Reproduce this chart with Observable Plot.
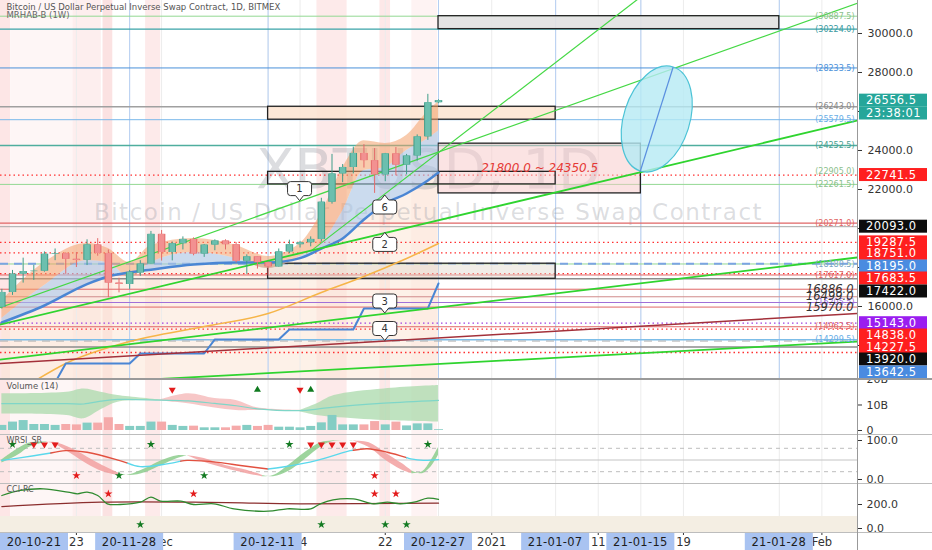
<!DOCTYPE html>
<html><head><meta charset="utf-8">
<script src="https://cdn.jsdelivr.net/npm/d3@7"></script>
<script src="https://cdn.jsdelivr.net/npm/@observablehq/plot@0.6"></script>
<style>
html,body{margin:0;padding:0;background:#fff;}
#wrap{position:relative;width:932px;height:550px;overflow:hidden;font-family:"DejaVu Sans",sans-serif;}
#wrap svg{position:absolute;left:0;overflow:visible;background:transparent !important;}
.sep{position:absolute;left:0;width:932px;height:0;border-top:1px solid #bdbdbd;}
</style></head><body><div id="wrap"></div>
<script>
// ---------------- DATA ----------------
const candleStart = "2020-11-16";
const open  = [15960,16720,17660,17790,17810,18680,18710,18420,18370,19160,18720,17200,17130,17720,18180,19700,18770,19220,19440,18690,19150,19360,19170,18320,18550,18250,18030,18800,19170,19270,19440,21350,22800,23130,23850,23480,22750,23830,23250,23720,24700,26450];
const high  = [16880,17850,18480,18110,18800,18950,18750,18770,19420,19480,18900,17450,17850,18350,19850,19900,19300,19570,19520,19180,19420,19420,19280,18650,18560,18280,18950,19400,19340,19570,21550,23800,23280,24170,24300,24100,23850,24150,23800,24800,26880,26600];
const low   = [15870,16570,17200,17340,17760,18350,17650,18000,18100,18580,16450,16700,16880,17550,18180,18330,18340,18900,18600,18520,18860,18900,18240,17650,17920,17570,18020,18710,19000,19060,19300,21250,22350,22800,23100,21800,22400,22700,22750,23450,24520,26400];
const close = [16720,17660,17790,17810,18680,18710,18420,18370,19160,18720,17200,17130,17750,18180,19700,18770,19220,19440,18690,19150,19360,19170,18320,18550,18250,18030,18800,19170,19270,19440,21350,22800,23130,23850,23480,22750,23830,23250,23720,24700,26450,26556.5];

const xDomain = ["2020-11-15T20:57Z", "2021-02-04T08:14Z"];
const priceDomain = [12308, 31692];
const priceTicks = [14000,16000,18000,20000,22000,24000,26000,28000,30000];

const xTickDates  = ["2020-11-23","2020-12-01","2020-12-14","2020-12-22","2021-01-01","2021-01-11","2021-01-19","2021-02-01"];
const xTickLabels = ["23","Dec","14","22","2021","11","19","Feb"];
const vlineDates  = ["2020-11-28","2020-12-11","2020-12-27","2021-01-07","2021-01-15","2021-01-28"];
const vlineLabels = ["20-11-28","20-12-11","20-12-27","21-01-07","21-01-15","21-01-28"];
const pinnedLabel = "20-10-21";

const stripeFrom  = ["2020-11-15T20:00Z","2020-11-16T20:00Z","2020-11-22T16:00Z","2020-11-25T12:00Z","2020-11-29T12:00Z","2020-12-15T14:00Z","2020-12-21T12:00Z","2020-12-24T12:00Z"];
const stripeTo    = ["2020-11-16T20:00Z","2020-11-22T16:00Z","2020-11-25T08:00Z","2020-11-26T10:00Z","2020-11-30T22:00Z","2020-12-18T10:00Z","2020-12-22T12:00Z","2020-12-26T22:00Z"];
const stripeColor = ["#fde6e6","#fef6f6","#fdeeee","#fbe2e2","#fdeaea","#fdeaea","#fde8e8","#fef3f3"];

const hlineValues = [30887.5,30224,28233.5,26243,25579.5,24252.5,22741.5,22261.5,20271,20093,19287.5,18751,18180.5,18195,17683.5,17617,17422,16886,16499,16205.5,15970,15143,14962.5,14838,14299.5,14227.5,13920,13642.5];
const hlineColors = ["#93d893","#3aa3a8","#4a90d9","#a0a0a0","#79b8ea","#4fae9e","#ff3030","#93d893","#e06666","#a8a8a8","#ff3030","#ff3030","#93d893","#7ba4e2","#ff3030","#e06666","#8c8c8c","#e06666","#d08a8a","#a070d8","#e06666","#a040e0","#e06666","#ff3030","#7cbde8","#b0b0b0","#8c8c8c","#ff3030"];
const hlineKinds  = ["solid","solid","solid","solid","solid","solid","dot","solid","solid","solid","dot","dot","solid","dash","dot","solid","solid","solid","solid","solid","solid","dot","solid","dot","solid","dash","solid","dot"];
const hlineWidths = [1,1.2,1,1.5,1,1.5,1.3,1,1.2,1,1.3,1.3,1,2,1.3,1,1.5,1,1,1.2,1,1.3,1,1.3,1.5,1,1.5,1.3];

const tagValues = [30887.5,30224,28233.5,26243,25579.5,24252.5,22905,22261.5,20271,18180.5,17617,16205.5,14962.5,14299.5];
const tagColors = ["#8cc08c","#3a9aa0","#4a90d9","#888888","#6aaee6","#4a9e90","#8cc08c","#8cc08c","#e06666","#7ba4c2","#e06666","#a070d8","#e06666","#6aaee6"];
const strikeValues = [16886, 16499, 15970];

const boxLabels = ["26556.5","23:38:01","22741.5","20093.0","19287.5","18751.0","18195.0","17683.5","17422.0","15143.0","14838.0","14227.5","13920.0","13642.5"];
const boxAt     = [26556.5,25897,22741.5,20093,19287.5,18700,18051,17436,16770,15143,14513,13898,13282,12615];
const boxColors = ["#26a69a","#26a69a","#ff1f1f","#0d0d0d","#ff1f1f","#ff1f1f","#4a8be0","#ff1f1f","#0d0d0d","#9a1df0","#ff1f1f","#ff1f1f","#0d0d0d","#4a8be0"];

const drawFrom = ["2020-12-27","2020-12-11","2020-12-27","2020-12-11","2020-12-11"];
const drawTo   = ["2021-01-28","2021-01-07","2021-01-15","2021-01-07","2021-01-07"];
const drawLow  = [30224, 25579.5, 21800, 22261.5, 17422];
const drawHigh = [30887.5, 26243, 24350.5, 22905, 18195];
const drawFill = ["rgba(225,225,225,0.9)","rgba(253,228,208,0.85)","rgba(247,200,200,0.5)","rgba(255,255,255,0)","rgba(225,215,205,0.45)"];
const zoneLabel = "21800.0 ~ 24350.5";

const trendFrom      = ["2020-11-15","2020-12-15","2020-11-15","2020-11-15","2020-11-15","2020-11-15"];
const trendTo        = ["2021-02-05","2021-01-16","2021-02-05","2021-02-05","2021-02-05","2021-02-05"];
const trendFromPrice = [15779, 18841, 14964, 13226, 11821, 13051];
const trendToPrice   = [31679, 32300, 25621, 18559, 14221, 15662];
const trendColors    = ["#45d845","#45d845","#2fd42f","#2fd42f","#2fd42f","#a3303a"];
const trendWidths    = [1.2,1.2,1.8,1.8,1.8,1.5];

const bandDays     = [0,4,8,10,12,14,18,22,25,28,30,32,34,36,38,40,41];
const orangeTop    = [16308,18256,19231,18974,18256,19128,19487,19128,18564,19231,20800,23100,24500,24360,24770,26000,26500];
const orangeBottom = [15385,17077,18359,18256,17487,18256,18769,18461,17949,18564,19200,20900,22970,23130,24000,24600,25000];
const blueLine     = [15180,16051,17150,17540,17744,17890,18150,18256,18256,18480,18974,19487,20460,21282,21795,22462,22872];

const maDays   = [3,6,12,19,25,30,34,38,41];
const maValues = [12154,13077,14205,14974,15641,16718,17538,18461,19231];
const stepDays   = [5,6,12,13,19,20,26,27,33,34,40,41];
const stepValues = [12100,13077,13077,13590,13590,14310,14310,14820,14820,15900,15900,17180];

const ellipseDates  = ["2021-01-15","2021-01-18T02:00Z"];
const ellipsePrices = [22923, 28256];

const calloutLabels = ["1","6","2","3","4"];
const calloutDates  = ["2020-12-14","2020-12-22","2020-12-22","2020-12-22","2020-12-22"];
const calloutPrices = [21405, 21692, 19774, 15641, 14231];
const calloutAnchor = ["bottom","top","top","bottom","bottom"];

// volume panel (billions)
const volume   = [2.0,3.3,3.9,2.35,2.35,2.0,2.35,2.2,2.9,2.9,5.0,2.35,1.6,1.6,3.3,3.3,2.0,1.6,1.7,1.05,1.05,1.05,1.7,2.0,1.6,2.0,1.3,1.3,1.05,1.6,3.0,5.9,2.2,2.2,2.2,3.5,2.2,3.3,1.8,2.6,2.6,0.3];
const volumeUp = "GGGGGGRRGRRRGGGRGGRGGRRGRRGGGGGGGGRRGRGGGG";
const volDomain = [-1.57, 20.39];
const volEnvDays  = [0,6.1,7.7,9.3,10.9,14.9,17.5,20,22,24,28,29.6,31.2,35.9,41];
const volEnvMid   = [10.5,10.5,10.4,11.5,12.2,11.9,11.6,10.6,9.7,8.5,7.8,8.4,9.2,10.7,11.8];
const volEnvUpper = [14.4,15,16.3,15,13.7,12.0,14.4,12.5,11.8,8.9,7.9,10.5,13.7,16.3,17.6];
const volEnvLower = [6.5,5.9,4.6,8.1,11.1,11.6,10.5,8.8,7.8,7.8,7.4,5.9,5.2,3.9,3.3];
const volEnvTrend = ["G","G","G","G","G","R","R","R","R","R","G","G","G","G","G"];
const volSignalDays = [16,28,24,29];
const volSignalKind = ["down","down","up","up"];
const volSignalAt = 16;

// RSI panel
const rsiDomain = [-10.26, 115.4];
const rsiDays  = [0,3,4.6,6,8,11,11.8,13,15.5,16.8,17.4,20.3,22.4,25,26.4,29.6,32.7,33,34.3,36.2,38,38.4,39.6,41];
const rsiValue = [49,61,68,74,70,49,42,33,40,47,49,44,36,27,32,49,74,75,79,70,56,53,49,51];
const rsiTrend = ["C","C","R","R","R","R","C","C","C","R","R","R","R","C","C","C","C","R","R","R","C","C","C","C"];
const oscDays = [0,1.5,2.7,4.2,5,6.5,8,9.5,11,12,13.5,15,16.5,17.5,19,21,23,24.5,25.5,27,28.5,30,31,33,34.5,36,37.5,38.5,39.5,40.3,41];
const oscFast = [50,78,94,96,90,66,40,20,10,12,28,48,61,60,44,28,15,7,10,38,70,95,99,99,82,50,25,15,20,48,82];
const oscSlow = [42,62,84,95,95,80,58,35,16,10,18,36,54,61,54,36,24,10,7,22,52,84,97,99,94,68,42,22,15,32,62];
const oscTrend = ["G","G","G","R","R","R","R","R","G","G","G","G","G","R","R","R","R","G","G","G","G","G","G","R","R","R","R","G","G","G","G"];
const rsiTopGreen = [1,14,27,40];
const rsiTopRed = [3,4,5,29,30,31,32,33];
const rsiBottomRed = [7,35];
const rsiBottomGreen = [11,19];

// CCI panel
const cciDomain = [-33.3, 375];
const cciDays  = [0,1.75,3.9,6.2,7.1,8,9,9.9,11.1,13,14,14.9,16.8,18,19.9,21.8,25,26.8,29,29.9,31.1,33,34.9,36.2,37.4,38.7,40,41];
const cciValue = [275,317,331,303,289,303,275,206,200,219,261,228,228,200,206,164,144,164,164,206,239,247,206,219,206,219,253,242];
const sigDays  = [0,9.3,18,28,41];
const sigValue = [183,219,219,206,211];
const cciRedDots = [10,18,35,37];
const cciGreenDots = [13,30,36,38];

// ---------------- HELPERS ----------------
const t0 = Date.parse(candleStart + "T00:00Z");
const day = i => new Date(t0 + i * 864e5);
const D = s => new Date(s.length <= 10 ? s + "T00:00Z" : s);
const XD = xDomain.map(D);
const FONT = "DejaVu Sans, sans-serif";

function segs(xs, a, b, cols) {
  const out = []; let seg = 0;
  for (let i = 0; i < xs.length; i++) {
    if (i > 0 && cols[i] !== cols[i-1]) { out.push({x: day(xs[i]), a: a[i], b: b[i], seg, c: cols[i-1]}); seg++; }
    out.push({x: day(xs[i]), a: a[i], b: b[i], seg, c: cols[i]});
  }
  return out;
}

const candles = open.map((o, i) => ({date: day(i), o, h: high[i], l: low[i], c: close[i]}));
const stripes = stripeFrom.map((s, i) => ({x1: D(s), x2: D(stripeTo[i]), fill: stripeColor[i]}));
const hlines = hlineValues.map((v, i) => ({v, c: hlineColors[i], k: hlineKinds[i], w: hlineWidths[i]}));
const draws = drawFrom.map((s, i) => ({x1: D(s), x2: D(drawTo[i]), y1: drawLow[i], y2: drawHigh[i], fill: drawFill[i]}));
const trends = trendFrom.map((s, i) => ({x1: D(s), x2: D(trendTo[i]), y1: trendFromPrice[i], y2: trendToPrice[i], c: trendColors[i], w: trendWidths[i]}));
const band = bandDays.map((d, i) => ({x: day(d), top: orangeTop[i], bot: orangeBottom[i], blue: blueLine[i]}));
const ma = maDays.map((d, i) => ({x: day(d), v: maValues[i]}));
const step = stepDays.map((d, i) => ({x: day(d), v: stepValues[i]}));
const gridDates = xTickDates.concat(vlineDates).map(D);

const UP_FILL = "#6cbfae", UP_LINE = "#3f9d89", DN_FILL = "#f29191", DN_LINE = "#e46a6a";

function baseOpts(h, domain, extra) {
  return Object.assign({
    width: 932, height: h, marginLeft: 0, marginRight: 75, marginTop: 0, marginBottom: 0,
    x: {type: "utc", domain: XD, axis: null, label: null},
    y: {domain, axis: null, label: null},
    color: {type: "identity"},
    style: {fontFamily: FONT, background: "transparent", overflow: "visible"}
  }, extra || {});
}

const stripeMark = Plot.rect(stripes, {x1: "x1", x2: "x2", fill: "fill"});
const gridMark = Plot.ruleX(gridDates, {stroke: "#ececec", strokeWidth: 1});

function watermark(index, scales, values, dims) {
  const cx = (dims.marginLeft + dims.width - dims.marginRight) / 2;
  const cy = (dims.marginTop + dims.height - dims.marginBottom) / 2;
  const g = d3.create("svg:g").attr("fill", "#9598a1").attr("fill-opacity", 0.33).attr("text-anchor", "middle").attr("font-family", FONT);
  g.append("text").attr("x", cx).attr("y", cy - 21).attr("dy", "0.36em").attr("font-size", 56).text("XBTUSD, 1D");
  g.append("text").attr("x", cx).attr("y", cy + 23).attr("dy", "0.36em").attr("font-size", 23).attr("letter-spacing", "1.5px").text("Bitcoin / US Dollar Perpetual Inverse Swap Contract");
  return g.node();
}

function ellipseMark(index, {x, y}) {
  const x1 = x(D(ellipseDates[0])), y1 = y(ellipsePrices[0]), x2 = x(D(ellipseDates[1])), y2 = y(ellipsePrices[1]);
  const cx = (x1 + x2) / 2, cy = (y1 + y2) / 2, a = Math.hypot(x2 - x1, y2 - y1) / 2;
  const ang = Math.atan2(y2 - y1, x2 - x1) * 180 / Math.PI;
  const g = d3.create("svg:g");
  g.append("ellipse").attr("cx", cx).attr("cy", cy).attr("rx", a).attr("ry", 33)
    .attr("transform", `rotate(${ang} ${cx} ${cy})`).attr("fill", "#b5eaf4").attr("fill-opacity", 0.8)
    .attr("stroke", "#4cc3d6").attr("stroke-width", 1.2);
  g.append("line").attr("x1", x1).attr("y1", y1).attr("x2", x2).attr("y2", y2).attr("stroke", "#5a8fe0").attr("stroke-width", 1.2);
  return g.node();
}

function calloutMark(index, {x, y}) {
  const g = d3.create("svg:g");
  calloutLabels.forEach((lab, i) => {
    const px = x(D(calloutDates[i])), py = y(calloutPrices[i]);
    const w = 24, h = 14, p = 5, r = 3, l = px - w / 2, rr = px + w / 2;
    const down = calloutAnchor[i] === "bottom";
    let top, bot, d;
    if (down) { bot = py - p; top = bot - h;
      d = `M${l+r},${top}H${rr-r}Q${rr},${top} ${rr},${top+r}V${bot-r}Q${rr},${bot} ${rr-r},${bot}H${px+4}L${px},${py}L${px-4},${bot}H${l+r}Q${l},${bot} ${l},${bot-r}V${top+r}Q${l},${top} ${l+r},${top}Z`;
    } else { top = py + p; bot = top + h;
      d = `M${l+r},${top}H${px-4}L${px},${py}L${px+4},${top}H${rr-r}Q${rr},${top} ${rr},${top+r}V${bot-r}Q${rr},${bot} ${rr-r},${bot}H${l+r}Q${l},${bot} ${l},${bot-r}V${top+r}Q${l},${top} ${l+r},${top}Z`;
    }
    g.append("path").attr("d", d).attr("fill", "white").attr("stroke", "#333").attr("stroke-width", 1);
    g.append("text").attr("x", px).attr("y", (top + bot) / 2).attr("dy", "0.36em").attr("text-anchor", "middle")
      .attr("font-size", 10).attr("font-family", FONT).attr("fill", "#333").text(lab);
  });
  return g.node();
}

function priceBoxes(index, {y}, values, dims) {
  const g = d3.create("svg:g").attr("font-family", FONT).attr("text-anchor", "start");
  const x0 = dims.width - dims.marginRight + 2;
  boxLabels.forEach((lab, i) => {
    const cy = y(boxAt[i]);
    g.append("rect").attr("x", x0).attr("y", cy - 6.5).attr("width", 68).attr("height", 13).attr("fill", boxColors[i]);
    g.append("text").attr("x", x0 + 7).attr("y", cy).attr("dy", "0.36em").attr("text-anchor", "start").attr("fill", "white").attr("font-size", 11.5).attr("letter-spacing", "0.4px").text(lab);
  });
  return g.node();
}

function dateBoxes(index, {x}, values, dims) {
  const g = d3.create("svg:g").attr("font-family", FONT);
  const top = dims.height - dims.marginBottom + 1;
  const items = [{cx: 34, lab: pinnedLabel}].concat(vlineDates.map((d, i) => ({cx: x(D(d)), lab: vlineLabels[i]})));
  items.forEach(it => {
    g.append("rect").attr("x", it.cx - 34).attr("y", top).attr("width", 68).attr("height", 17).attr("fill", "#a9c3f1");
    g.append("text").attr("x", it.cx).attr("y", top + 8.5).attr("dy", "0.36em").attr("text-anchor", "middle")
      .attr("fill", "#1d1d1d").attr("font-size", 11.5).attr("letter-spacing", "0.3px").text(it.lab);
  });
  return g.node();
}

const wrap = document.getElementById("wrap");
function place(el, top) { el.style.position = "absolute"; el.style.top = top + "px"; el.style.left = "0px"; wrap.appendChild(el); }

// ---------------- VOLUME ----------------
const volBars = volume.map((v, i) => ({x: day(i), v, c: volumeUp[i] === "G" ? "#84cdc4" : "#f5aaaa"}));
const volEnv = segs(volEnvDays, volEnvLower, volEnvUpper, volEnvTrend).map(d => Object.assign(d, {c: d.c === "G" ? "#a9d9ab" : "#f4b4b4"}));
const volMid = volEnvDays.map((d, i) => ({x: day(d), v: volEnvMid[i]}));
const volSig = volSignalDays.map((d, i) => ({x: day(d), v: volSignalAt, k: volSignalKind[i]}));
const volPlot = Plot.plot(baseOpts(56, volDomain, {marks: [
  stripeMark, gridMark,
  Plot.areaY(volEnv, {x: "x", y1: "a", y2: "b", z: "seg", fill: "c", fillOpacity: 0.75, curve: "catmull-rom"}),
  Plot.line(volMid, {x: "x", y: "v", stroke: "#7fd6c8", strokeWidth: 1.2, curve: "catmull-rom"}),
  Plot.ruleX(volBars, {x: "x", y1: 0, y2: "v", stroke: "c", strokeWidth: 9}),
  Plot.dot(volSig.filter(d => d.k === "down"), {x: "x", y: "v", symbol: "triangle", rotate: 180, r: 2.6, fill: "#e31b1b"}),
  Plot.dot(volSig.filter(d => d.k === "up"), {x: "x", y: "v", symbol: "triangle", r: 2.6, fill: "#0f7a1f"}),
  Plot.text(["Volume (14)"], {frameAnchor: "top-left", dx: 6, dy: 4, text: d => d, fontSize: 8.5, fill: "#555", lineAnchor: "top"}),
  Plot.axisY({anchor: "right", label: null, ticks: [0, 10, 20], tickFormat: d => d === 0 ? "0" : d + "B", tickSize: 4, tickPadding: 5, fontSize: 11, color: "#333"})
]}));
place(volPlot, 378);

// ---------------- RSI ----------------
const rsiSeg = segs(rsiDays, rsiValue, rsiValue, rsiTrend).map(d => Object.assign(d, {c: d.c === "C" ? "#5ad8ec" : "#e2503f"}));
const oscSeg = segs(oscDays, oscSlow, oscFast, oscTrend).map(d => Object.assign(d, {c: d.c === "G" ? "#8ccc8c" : "#f2a0a0"}));
const rsiPlot = Plot.plot(baseOpts(49, rsiDomain, {marks: [
  stripeMark, gridMark,
  Plot.ruleY([80, 20], {stroke: "#bdbdbd", strokeDasharray: "4,4"}),
  Plot.ruleY([50], {stroke: "#c4c4c4"}),
  Plot.areaY(oscSeg, {x: "x", y1: "a", y2: "b", z: "seg", fill: "c", fillOpacity: 0.85, curve: "catmull-rom"}),
  Plot.line(rsiSeg, {x: "x", y: "a", z: "seg", stroke: "c", strokeWidth: 1.4, curve: "catmull-rom"}),
  Plot.dot(rsiTopGreen, {x: d => day(d), y: () => 90, symbol: "star", r: 2.6, fill: "#137a22"}),
  Plot.dot(rsiTopRed, {x: d => day(d), y: () => 90, symbol: "triangle", rotate: 180, r: 2.6, fill: "#e31b1b"}),
  Plot.dot(rsiBottomRed, {x: d => day(d), y: () => 10, symbol: "star", r: 2.6, fill: "#e31b1b"}),
  Plot.dot(rsiBottomGreen, {x: d => day(d), y: () => 10, symbol: "star", r: 2.6, fill: "#137a22"}),
  Plot.text(["WRSI_SR"], {frameAnchor: "top-left", dx: 6, dy: 3, text: d => d, fontSize: 8, fill: "#555", lineAnchor: "top"}),
  Plot.axisY({anchor: "right", label: null, ticks: [0, 100], tickFormat: d => d.toFixed(1), tickSize: 4, tickPadding: 5, fontSize: 11, color: "#333"})
]}));
place(rsiPlot, 434);

// ---------------- CCI + X AXIS ----------------
const cciLine = cciDays.map((d, i) => ({x: day(d), v: cciValue[i]}));
const sigLine = sigDays.map((d, i) => ({x: day(d), v: sigValue[i]}));
const tickMap = new Map(xTickDates.map((d, i) => [+D(d), xTickLabels[i]]));
const cciPlot = Plot.plot(baseOpts(67, cciDomain, {marginBottom: 18, marks: [
  stripeMark, gridMark,
  Plot.rect([0], {y1: 100, y2: cciDomain[0], fill: "#f4eee3"}),
  Plot.line(sigLine, {x: "x", y: "v", stroke: "#8b2e2e", strokeWidth: 1.3, curve: "catmull-rom"}),
  Plot.line(cciLine, {x: "x", y: "v", stroke: "#2f8a2f", strokeWidth: 1.3, curve: "catmull-rom"}),
  Plot.dot(cciRedDots, {x: d => day(d), y: () => 289, symbol: "star", r: 2.6, fill: "#e31b1b"}),
  Plot.dot(cciGreenDots, {x: d => day(d), y: () => 33, symbol: "star", r: 2.6, fill: "#137a22"}),
  Plot.text(["CCI-RC"], {frameAnchor: "top-left", dx: 6, dy: 3, text: d => d, fontSize: 8, fill: "#555", lineAnchor: "top"}),
  Plot.axisY({anchor: "right", label: null, ticks: [0, 200], tickFormat: d => d.toFixed(1), tickSize: 4, tickPadding: 5, fontSize: 11, color: "#333"}),
  Plot.axisX({anchor: "bottom", label: null, ticks: xTickDates.map(D), tickFormat: d => tickMap.get(+d), tickSize: 3, tickPadding: 2, fontSize: 11.5, color: "#333"}),
  dateBoxes
]}));
place(cciPlot, 483);

// ---------------- MAIN PRICE PANEL ----------------
const boxMid = draws[2];
const mainPlot = Plot.plot(baseOpts(378, priceDomain, {marks: [
  stripeMark,
  Plot.areaY(band, {x: "x", y1: () => priceDomain[0], y2: "blue", fill: "#fbe6d6", fillOpacity: 0.55, curve: "monotone-x"}),
  gridMark,
  Plot.ruleX(vlineDates.map(D), {stroke: "#b5cff3", strokeWidth: 1}),
  watermark,
  Plot.ruleY(hlines.filter(d => d.k === "solid"), {y: "v", stroke: "c", strokeWidth: "w"}),
  Plot.ruleY(hlines.filter(d => d.k === "dot"), {y: "v", stroke: "c", strokeWidth: "w", strokeDasharray: "1.5,3"}),
  Plot.ruleY(hlines.filter(d => d.k === "dash"), {y: "v", stroke: "c", strokeWidth: "w", strokeDasharray: "8,6"}),
  Plot.rect(draws, {x1: "x1", x2: "x2", y1: "y1", y2: "y2", fill: "fill", stroke: "#222", strokeWidth: 1.3}),
  Plot.text([zoneLabel], {x: () => new Date((+boxMid.x1 + +boxMid.x2) / 2), y: () => (boxMid.y1 + boxMid.y2) / 2, text: d => d, fill: "#e53935", fontSize: 12, fontStyle: "italic"}),
  Plot.areaY(band, {x: "x", y1: "blue", y2: "bot", fill: "#a9c3e3", fillOpacity: 0.6, curve: "monotone-x"}),
  Plot.areaY(band, {x: "x", y1: "bot", y2: "top", fill: "#f2a06a", fillOpacity: 0.55, curve: "monotone-x"}),
  Plot.line(ma, {x: "x", y: "v", stroke: "#f6b548", strokeWidth: 1.5, curve: "monotone-x", clip: true}),
  Plot.line(step, {x: "x", y: "v", stroke: "#4a86d4", strokeWidth: 2, clip: true}),
  Plot.line(band, {x: "x", y: "blue", stroke: "#4a86d4", strokeWidth: 2.5, curve: "monotone-x"}),
  Plot.link(trends, {x1: "x1", x2: "x2", y1: "y1", y2: "y2", stroke: "c", strokeWidth: "w", clip: true}),
  Plot.ruleX(candles, {x: "date", y1: "l", y2: "h", stroke: d => d.c >= d.o ? UP_LINE : DN_LINE, strokeWidth: 1}),
  Plot.ruleX(candles, {x: "date", y1: "o", y2: "c", stroke: d => d.c >= d.o ? UP_LINE : DN_LINE, strokeWidth: 7.5}),
  Plot.ruleX(candles, {x: "date", y1: "o", y2: "c", stroke: d => d.c >= d.o ? UP_FILL : DN_FILL, strokeWidth: 5.5}),
  ellipseMark,
  calloutMark,
  Plot.text(tagValues, {y: d => d, frameAnchor: "right", dx: -3, textAnchor: "end", text: d => "(" + d.toFixed(1) + ")", fill: (d, i) => tagColors[i], fontSize: 8}),
  Plot.text(strikeValues, {y: d => d, frameAnchor: "right", dx: -4, textAnchor: "end", text: d => d.toFixed(1), fill: "#333", fontSize: 11.5, fontStyle: "italic"}),
  Plot.text(["Bitcoin / US Dollar Perpetual Inverse Swap Contract, 1D, BITMEX"], {frameAnchor: "top-left", dx: 6, dy: 3, text: d => d, fontSize: 8.5, fill: "#555", lineAnchor: "top"}),
  Plot.text(["MRHAB-B (1W)"], {frameAnchor: "top-left", dx: 6, dy: 11, text: d => d, fontSize: 8.5, fill: "#666", lineAnchor: "top"}),
  Plot.axisY({anchor: "right", label: null, ticks: priceTicks, tickFormat: d => d.toFixed(1), tickSize: 4, tickPadding: 6, fontSize: 11, color: "#333"}),
  priceBoxes
]}));
place(mainPlot, 0);

// separators and axis line
[[378, 2, "#9a9a9a"], [434, 1, "#bdbdbd"], [483, 1, "#bdbdbd"], [532, 1, "#bdbdbd"]].forEach(([t, w, c]) => {
  const s = document.createElement("div"); s.className = "sep"; s.style.top = t + "px"; s.style.borderTop = w + "px solid " + c; wrap.appendChild(s);
});
const ax = document.createElement("div");
ax.style.cssText = "position:absolute;left:857px;top:0;width:0;height:550px;border-left:1px solid #999;";
wrap.appendChild(ax);
</script></body></html>
